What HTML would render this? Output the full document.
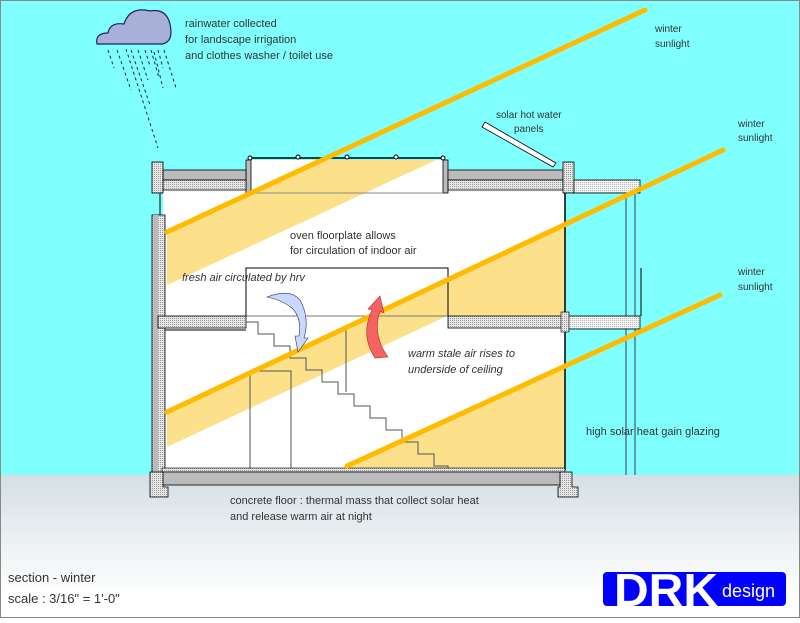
<!DOCTYPE html>
<html><head><meta charset="utf-8"><style>
body{margin:0;width:800px;height:618px;overflow:hidden}
svg text{font-family:"Liberation Sans",sans-serif;fill:#333}
</style></head><body>
<svg width="800" height="618" viewBox="0 0 800 618" xmlns="http://www.w3.org/2000/svg">
<defs>
<linearGradient id="g" x1="0" y1="0" x2="0" y2="1">
<stop offset="0" stop-color="#d5dfe4"/><stop offset="0.85" stop-color="#fff"/><stop offset="1" stop-color="#fff"/></linearGradient>
<pattern id="h" width="2" height="2" patternUnits="userSpaceOnUse"><rect width="2" height="2" fill="#e6e6e6"/><rect width="1" height="1" fill="#999"/></pattern>
<pattern id="h2" width="2" height="2" patternUnits="userSpaceOnUse"><rect width="2" height="2" fill="#f2f2f2"/><rect width="1" height="1" fill="#bbb"/></pattern>
<clipPath id="lc"><rect x="603" y="572" width="183" height="34"/></clipPath>
</defs>
<rect width="800" height="475" fill="#80ffff"/>
<rect y="475" width="800" height="143" fill="url(#g)"/>
<rect x="0.5" y="0.5" width="799" height="617" fill="none" stroke="#888"/>

<rect x="163" y="190" width="402" height="282" fill="#fff"/>
<rect x="250" y="160" width="194" height="32" fill="#fff"/>
<polygon points="167,232 322,160 436,160 167,285" fill="#fce08a"/>
<polygon points="167,412 565,225 565,316 447,316 167,447" fill="#fce08a"/>
<polygon points="347,466 565,366 565,470 347,470" fill="#fce08a"/>

<line x1="250" y1="158" x2="444" y2="158" stroke="#000" stroke-width="1.5"/>
<g fill="#fff" stroke="#000"><circle cx="250" cy="158" r="2"/><circle cx="298" cy="157" r="2"/><circle cx="347" cy="157" r="2"/><circle cx="396" cy="157" r="2"/><circle cx="443" cy="158" r="2"/></g>
<rect x="246" y="160" width="5" height="33" fill="#bbb" stroke="#000" stroke-width="0.8"/>
<rect x="443" y="160" width="5" height="33" fill="#bbb" stroke="#000" stroke-width="0.8"/>
<line x1="251" y1="193" x2="443" y2="193" stroke="#888"/>
<rect x="163" y="170" width="83" height="10" fill="#bbb" stroke="#000" stroke-width="0.8"/>
<rect x="163" y="180" width="83" height="10" fill="url(#h)" stroke="#000" stroke-width="0.8"/>
<rect x="448" y="170" width="115" height="10" fill="#bbb" stroke="#000" stroke-width="0.8"/>
<rect x="448" y="180" width="115" height="10" fill="url(#h)" stroke="#000" stroke-width="0.8"/>
<rect x="152" y="162" width="11" height="31" fill="url(#h)" stroke="#000" stroke-width="0.8"/>
<rect x="563" y="162" width="11" height="31" fill="url(#h)" stroke="#000" stroke-width="0.8"/>
<rect x="574" y="180" width="66" height="13" fill="url(#h2)" stroke="#000" stroke-width="0.8"/>
<polygon points="482,127 485,122 556,163 553,167" fill="#fff" stroke="#000" stroke-width="0.8"/>

<line x1="160" y1="193" x2="160" y2="215" stroke="#000"/>
<rect x="152" y="215" width="13" height="257" fill="url(#h)" stroke="#000" stroke-width="0.8"/>
<rect x="153" y="215" width="5" height="257" fill="#bbb"/>
<line x1="565" y1="193" x2="565" y2="470" stroke="#000" stroke-width="1.5"/>
<line x1="626" y1="193" x2="626" y2="475" stroke="#337"/>
<line x1="635" y1="193" x2="635" y2="475" stroke="#337"/>
<line x1="641" y1="268" x2="641" y2="316" stroke="#000"/>

<polyline points="246,316 246,268 448,268 448,316" fill="none" stroke="#000" stroke-width="1"/>
<line x1="246" y1="316" x2="448" y2="316" stroke="#777"/>
<rect x="158" y="316" width="88" height="12" fill="url(#h)" stroke="#000" stroke-width="0.8"/>
<line x1="165" y1="330" x2="246" y2="330" stroke="#000"/>
<rect x="448" y="316" width="117" height="12" fill="url(#h)" stroke="#000" stroke-width="0.8"/>
<rect x="565" y="316" width="75" height="13" fill="url(#h2)" stroke="#000" stroke-width="0.8"/>
<rect x="561" y="312" width="8" height="20" fill="url(#h)" stroke="#000" stroke-width="0.6"/>

<polyline points="246,322 258,322 258,334 274,334 274,346 290,346 290,358 306,358 306,370 322,370 322,382 338,382 338,394 354,394 354,406 370,406 370,418 386,418 386,430 402,430 402,442 418,442 418,454 434,454 434,466 448,466 448,470" fill="none" stroke="#555" stroke-width="1"/>
<polyline points="250,470 250,371 291,371 291,470" fill="none" stroke="#555"/>
<line x1="346" y1="330" x2="346" y2="392" stroke="#555"/>

<rect x="162" y="468" width="403" height="4" fill="url(#h)" stroke="#000" stroke-width="0.6"/>
<rect x="162" y="472" width="403" height="13" fill="#bbb" stroke="#000" stroke-width="0.8"/>
<polygon points="150,472 163,472 163,487 168,487 168,497 150,497" fill="url(#h)" stroke="#000" stroke-width="0.8"/>
<polygon points="560,472 572,472 572,487 578,487 578,497 558,497 558,487 560,487" fill="url(#h)" stroke="#000" stroke-width="0.8"/>

<g stroke="#ffbb00" stroke-width="5" stroke-linecap="round">
<line x1="167" y1="232" x2="645" y2="10"/>
<line x1="167" y1="412" x2="723" y2="150"/>
<line x1="347" y1="466" x2="720" y2="295"/>
</g>

<path d="M267,297 Q290,288 300,300 Q310,318 304,338 L308,338 L298,352 L295,336 L299,336 Q302,318 292,308 Q282,300 267,297 Z" fill="#c8d8ff" stroke="#335" stroke-width="0.6"/>
<path d="M375,358 Q360,335 372,310 L368,309 L380,296 L384,313 L380,311 Q372,335 388,357 Z" fill="#f56262" stroke="#a33" stroke-width="0.6"/>

<path d="M97,44 Q95,33 108,33 Q110,22 124,24 Q130,6 150,11 Q166,8 170,24 Q174,42 162,44 Z" fill="#a8b0d8" stroke="#202060" stroke-width="1.2"/>
<g stroke="#202060" stroke-width="1" stroke-dasharray="3,3">
<line x1="108" y1="50" x2="114" y2="68"/><line x1="117" y1="50" x2="131" y2="90"/>
<line x1="126" y1="49" x2="158" y2="148"/><line x1="131" y1="50" x2="150" y2="105"/>
<line x1="138" y1="50" x2="148" y2="80"/><line x1="145" y1="50" x2="150" y2="66"/>
<line x1="151" y1="50" x2="159" y2="78"/><line x1="158" y1="50" x2="163" y2="68"/>
<line x1="154" y1="52" x2="163" y2="88"/><line x1="164" y1="50" x2="176" y2="88"/>
</g>

<g font-size="11">
<text x="185" y="27">rainwater collected</text>
<text x="185" y="43">for landscape irrigation</text>
<text x="185" y="59">and clothes washer / toilet use</text>
<text x="655" y="32" font-size="10">winter</text>
<text x="655" y="47" font-size="10">sunlight</text>
<text x="738" y="127" font-size="10">winter</text>
<text x="738" y="141" font-size="10">sunlight</text>
<text x="738" y="275" font-size="10">winter</text>
<text x="738" y="290" font-size="10">sunlight</text>
<text x="496" y="118" font-size="10">solar hot water</text>
<text x="514" y="132" font-size="10">panels</text>
<text x="290" y="239">oven floorplate allows</text>
<text x="290" y="254">for circulation of indoor air</text>
<text x="182" y="281" font-style="italic">fresh air circulated by hrv</text>
<text x="408" y="357" font-style="italic">warm stale air rises to</text>
<text x="408" y="373" font-style="italic">underside of ceiling</text>
<text x="586" y="435">high solar heat gain glazing</text>
<text x="230" y="504">concrete floor : thermal mass that collect solar heat</text>
<text x="230" y="520">and release warm air at night</text>
<text x="8" y="582" font-size="13">section - winter</text>
<text x="8" y="603" font-size="13">scale : 3/16" = 1'-0"</text>
</g>

<rect x="603" y="572" width="183" height="34" rx="4" fill="#0000ff"/>
<g clip-path="url(#lc)">
<text x="614" y="606" font-size="46" font-weight="bold" style="fill:#fff" textLength="104" lengthAdjust="spacingAndGlyphs">DRK</text>
</g>
<text x="722" y="597" font-size="18" style="fill:#fff">design</text>
</svg>
</body></html>
